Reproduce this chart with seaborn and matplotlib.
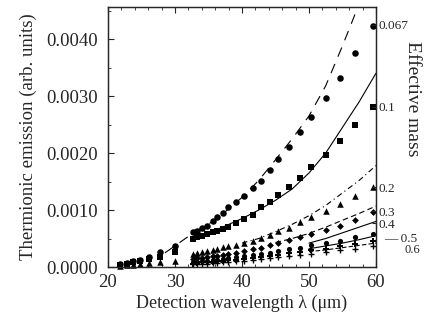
import numpy as np
import pandas as pd
import matplotlib
matplotlib.use("Agg")
import matplotlib.pyplot as plt
from matplotlib.ticker import MultipleLocator, FixedLocator
import seaborn as sns

# Measured emission (markers) on the shared detection-wavelength grid
lam_low = [21.8, 22.8, 23.7, 24.8, 26.1, 27.8, 30.0]
lam_high = [32.7, 33.3, 34.0, 34.8, 35.7, 36.3, 37.2, 37.9, 39.1, 40.3, 41.6,
            42.8, 44.2, 45.4, 47.0, 48.7, 50.3, 52.5, 54.6, 56.9, 59.5]

em_067_low = [0.00005, 0.00007, 0.00010, 0.00013, 0.00018, 0.00026, 0.00037]
em_067 = [0.00061, 0.00063, 0.00068, 0.00072, 0.00081, 0.00088, 0.00095, 0.00105,
          0.00114, 0.00125, 0.00139, 0.00151, 0.00170, 0.00189, 0.00211, 0.00237,
          0.00263, 0.00296, 0.00332, 0.00375, 0.00423]
em_01_low = [0.00004, 0.00006, 0.00008, 0.00010, 0.00014, 0.00018, 0.00026]
em_01 = [0.00049, 0.00053, 0.00054, 0.00058, 0.00061, 0.00063, 0.00067, 0.00070,
         0.00077, 0.00084, 0.00091, 0.00105, 0.00114, 0.00126, 0.00140, 0.00156,
         0.00175, 0.00196, 0.00221, 0.00249, 0.00281]
em_02_low = [0.00002, 0.00003, 0.00004, 0.00005, 0.00007, 0.00009, 0.00010]
em_02 = [0.00023, 0.00025, 0.00026, 0.00028, 0.00030, 0.00032, 0.00035, 0.00037,
         0.00039, 0.00042, 0.00046, 0.00051, 0.00056, 0.00063, 0.00068, 0.00079,
         0.00088, 0.00098, 0.00110, 0.00125, 0.00140]
em_03 = [0.00014, 0.00015, 0.00016, 0.00017, 0.00019, 0.00020, 0.00021, 0.00023,
         0.00025, 0.00028, 0.00031, 0.00034, 0.00038, 0.00043, 0.00047, 0.00052,
         0.00058, 0.00065, 0.00072, 0.00082, 0.00096]
em_04 = [0.00008, 0.00009, 0.00010, 0.00011, 0.00012, 0.00013, 0.00014, 0.00015,
         0.00017, 0.00019, 0.00021, 0.00023, 0.00025, 0.00028, 0.00031, 0.00034,
         0.00038, 0.00042, 0.00046, 0.00052, 0.00058]
em_05 = [0.00006, 0.00007, 0.00008, 0.00008, 0.00009, 0.00010, 0.00011, 0.00012,
         0.00013, 0.00014, 0.00016, 0.00017, 0.00019, 0.00021, 0.00024, 0.00026,
         0.00029, 0.00032, 0.00036, 0.00040, 0.00045]
em_06 = [0.00005, 0.00005, 0.00006, 0.00006, 0.00007, 0.00007, 0.00008, 0.00009,
         0.00010, 0.00010, 0.00012, 0.00014, 0.00015, 0.00017, 0.00019, 0.00021,
         0.00023, 0.00026, 0.00029, 0.00032, 0.00036]

# Calculated curves for each effective mass
curve_lam_067 = [28.5, 30.0, 32.5, 35.0, 37.5, 40.0, 42.5, 45.0, 47.5, 50.0, 52.5, 55.0, 57.5, 58.5]
curve_067 = [0.00025, 0.00037, 0.00058, 0.00075, 0.00097, 0.00122, 0.00152, 0.00188,
             0.00225, 0.00265, 0.00318, 0.00388, 0.00462, 0.00500]
curve_lam = [35.0, 37.5, 40.0, 42.5, 45.0, 47.5, 50.0, 52.5, 55.0, 57.5, 60.0]
curve_01 = [0.00060, 0.00072, 0.00085, 0.00100, 0.00117, 0.00137, 0.00165, 0.00200,
            0.00245, 0.00290, 0.00340]
curve_lam_02 = [40.0, 42.5, 45.0, 47.5, 50.0, 52.5, 55.0, 57.5, 60.0]
curve_02 = [0.00042, 0.00050, 0.00062, 0.00075, 0.00090, 0.00108, 0.00130, 0.00152, 0.00178]
curve_lam_03 = [45.0, 47.5, 50.0, 52.5, 55.0, 57.5, 60.0]
curve_03 = [0.00043, 0.00050, 0.00059, 0.00070, 0.00082, 0.00094, 0.00107]
curve_lam_456 = [50.0, 52.5, 55.0, 57.5, 60.0]
curve_04 = [0.00042, 0.00050, 0.00060, 0.00070, 0.00080]
curve_05 = [0.00032, 0.00037, 0.00042, 0.00048, 0.00055]
curve_06 = [0.00027, 0.00030, 0.00034, 0.00038, 0.00042]

mass_labels = ["0.067", "0.1", "0.2", "0.3", "0.4"]
mass_tick_values = [0.00425, 0.00281, 0.00140, 0.00098, 0.00077]

# Assemble long-form tables
rows = []
for m, low, high in [("0.067", em_067_low, em_067), ("0.1", em_01_low, em_01),
                     ("0.2", em_02_low, em_02)]:
    for x, y in zip(lam_low + lam_high, low + high):
        rows.append((m, x, y))
for m, high in [("0.3", em_03), ("0.4", em_04), ("0.5", em_05), ("0.6", em_06)]:
    for x, y in zip(lam_high, high):
        rows.append((m, x, y))
pts = pd.DataFrame(rows, columns=["mass", "lam", "em"])

crows = []
for m, xs, ys in [("0.067", curve_lam_067, curve_067), ("0.1", curve_lam, curve_01),
                  ("0.2", curve_lam_02, curve_02), ("0.3", curve_lam_03, curve_03),
                  ("0.4", curve_lam_456, curve_04), ("0.5", curve_lam_456, curve_05),
                  ("0.6", curve_lam_456, curve_06)]:
    for x, y in zip(xs, ys):
        crows.append((m, x, y))
curves = pd.DataFrame(crows, columns=["mass", "lam", "em"])

sns.set_style("ticks")
plt.rcParams["font.family"] = ["Liberation Serif", "DejaVu Serif"]

fig = plt.figure(figsize=(4.24, 3.29), dpi=100)
ax = fig.add_axes([0.2547, 0.1884, 0.632, 0.790])

marker_map = {"0.067": "o", "0.1": "s", "0.2": "^", "0.3": "D", "0.4": "o",
              "0.5": "P", "0.6": "+"}
dash_map = {"0.067": (9, 7), "0.1": "", "0.2": (5, 3, 1, 3), "0.3": (5, 3),
            "0.4": "", "0.5": "", "0.6": (4, 2)}

sns.lineplot(data=curves, x="lam", y="em", style="mass", dashes=dash_map,
             color="black", linewidth=0.8, legend=False, ax=ax, sort=True)

size_map = {"0.067": 22, "0.1": 20, "0.2": 22, "0.3": 12, "0.4": 14, "0.5": 18, "0.6": 22}
for m, sub in pts.groupby("mass", sort=False):
    sns.scatterplot(data=sub, x="lam", y="em", marker=marker_map[m], s=size_map[m],
                    color="black", edgecolor="black", linewidth=1.0 if m == "0.6" else 0,
                    legend=False, ax=ax, zorder=3, clip_on=False)

ax.set_xlim(20, 60)
ax.set_ylim(0, 0.00456)
ax.set_xticks([20, 30, 40, 50, 60])
ax.set_yticks([0.0, 0.001, 0.002, 0.003, 0.004])
ax.set_yticklabels(["0.0000", "0.0010", "0.0020", "0.0030", "0.0040"])
ax.xaxis.set_minor_locator(MultipleLocator(2))
ax.yaxis.set_minor_locator(MultipleLocator(0.0005))
ax.tick_params(which="both", direction="in", top=True, right=False, labelsize=13.5)
ax.tick_params(which="major", length=4, width=0.8)
ax.tick_params(which="minor", length=2, width=0.6)
ax.tick_params(axis="y", pad=7)
ax.tick_params(axis="x", pad=5)
for s in ax.spines.values():
    s.set_linewidth(0.9)

ax.set_xlabel("Detection wavelength λ (μm)", fontsize=13, labelpad=3)
ax.set_ylabel("Thermionic emission (arb. units)", fontsize=13.5, labelpad=7)

# Effective-mass scale on the right spine
ax2 = ax.twinx()
ax2.set_ylim(ax.get_ylim())
ax2.yaxis.set_major_locator(FixedLocator(mass_tick_values))
ax2.set_yticklabels(mass_labels)
ax2.tick_params(axis="y", direction="in", length=3, pad=1.5, labelsize=9.5)
for s in ax2.spines.values():
    s.set_linewidth(0.9)
ax2.text(1.03, 0.00050, "\u2014 0.5", transform=ax2.get_yaxis_transform(),
         fontsize=9.5, va="center", ha="left")
ax2.text(1.108, 0.00029, "0.6", transform=ax2.get_yaxis_transform(),
         fontsize=9, va="center", ha="left")
fig.text(0.974, 0.70, "Effective mass", rotation=270, fontsize=14,
         va="center", ha="center")

fig.savefig("out.png", dpi=100)
